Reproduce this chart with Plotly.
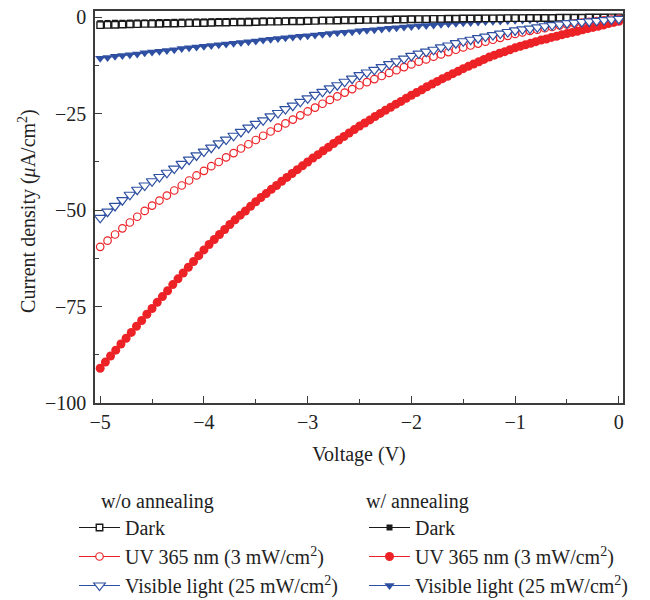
import plotly.graph_objects as go

# Voltage sweep used by the sparser series (open symbols, filled triangles/squares)
voltage_a = [-5.000, -4.929, -4.857, -4.786, -4.714, -4.643, -4.571, -4.500,
             -4.429, -4.357, -4.286, -4.214, -4.143, -4.071, -4.000,
             -3.929, -3.857, -3.786, -3.714, -3.643, -3.571, -3.500,
             -3.429, -3.357, -3.286, -3.214, -3.143, -3.071, -3.000,
             -2.929, -2.857, -2.786, -2.714, -2.643, -2.571, -2.500,
             -2.429, -2.357, -2.286, -2.214, -2.143, -2.071, -2.000,
             -1.929, -1.857, -1.786, -1.714, -1.643, -1.571, -1.500,
             -1.429, -1.357, -1.286, -1.214, -1.143, -1.071, -1.000,
             -0.929, -0.857, -0.786, -0.714, -0.643, -0.571, -0.500,
             -0.429, -0.357, -0.286, -0.214, -0.143, -0.071, 0.000]

# Voltage sweep of the denser series (UV, with annealing)
voltage_b = [-5.00, -4.95, -4.90, -4.85, -4.80, -4.75, -4.70, -4.65, -4.60, -4.55,
             -4.50, -4.45, -4.40, -4.35, -4.30, -4.25, -4.20, -4.15, -4.10, -4.05,
             -4.00, -3.95, -3.90, -3.85, -3.80, -3.75, -3.70, -3.65, -3.60, -3.55,
             -3.50, -3.45, -3.40, -3.35, -3.30, -3.25, -3.20, -3.15, -3.10, -3.05,
             -3.00, -2.95, -2.90, -2.85, -2.80, -2.75, -2.70, -2.65, -2.60, -2.55,
             -2.50, -2.45, -2.40, -2.35, -2.30, -2.25, -2.20, -2.15, -2.10, -2.05,
             -2.00, -1.95, -1.90, -1.85, -1.80, -1.75, -1.70, -1.65, -1.60, -1.55,
             -1.50, -1.45, -1.40, -1.35, -1.30, -1.25, -1.20, -1.15, -1.10, -1.05,
             -1.00, -0.95, -0.90, -0.85, -0.80, -0.75, -0.70, -0.65, -0.60, -0.55,
             -0.50, -0.45, -0.40, -0.35, -0.30, -0.25, -0.20, -0.15, -0.10, -0.05,
             0.00]

# ---- w/o annealing (uA/cm^2)
dark_wo = [-2.0, -1.95, -1.9, -1.85, -1.8, -1.75, -1.7, -1.7,
           -1.65, -1.6, -1.6, -1.55, -1.5, -1.5, -1.45,
           -1.4, -1.35, -1.35, -1.3, -1.25, -1.25, -1.2,
           -1.15, -1.1, -1.1, -1.05, -1.0, -1.0, -0.95,
           -0.9, -0.85, -0.85, -0.8, -0.75, -0.75, -0.7,
           -0.65, -0.65, -0.6, -0.6, -0.55, -0.55, -0.5,
           -0.45, -0.45, -0.4, -0.4, -0.35, -0.35, -0.3,
           -0.3, -0.3, -0.25, -0.25, -0.25, -0.2, -0.2,
           -0.2, -0.15, -0.15, -0.15, -0.15, -0.1, -0.1,
           -0.1, -0.1, -0.05, -0.05, -0.05, 0.0, 0.0]

uv_wo = [-59.5, -57.9, -56.3, -54.7, -53.2, -51.7, -50.2, -48.8,
         -47.5, -46.2, -44.9, -43.6, -42.3, -41.0, -39.8,
         -38.6, -37.5, -36.3, -35.2, -34.0, -32.9, -31.8,
         -30.7, -29.6, -28.6, -27.5, -26.5, -25.4, -24.4,
         -23.4, -22.4, -21.4, -20.5, -19.5, -18.6, -17.6,
         -16.8, -16.0, -15.2, -14.4, -13.7, -12.9, -12.2,
         -11.5, -10.9, -10.2, -9.6, -9.0, -8.4, -7.8,
         -7.3, -6.8, -6.3, -5.8, -5.3, -4.8, -4.3,
         -3.9, -3.5, -3.2, -2.8, -2.5, -2.1, -1.8,
         -1.55, -1.35, -1.15, -0.95, -0.75, -0.55, -0.4]

vis_wo = [-52.0, -50.4, -48.9, -47.4, -46.0, -44.7, -43.6, -42.5,
          -41.4, -40.3, -39.2, -38.0, -36.9, -35.8, -34.8,
          -33.8, -32.7, -31.7, -30.7, -29.7, -28.6, -27.6,
          -26.7, -25.7, -24.8, -23.8, -22.9, -21.9, -21.0,
          -20.1, -19.3, -18.4, -17.6, -16.7, -15.9, -15.0,
          -14.3, -13.6, -12.9, -12.1, -11.4, -10.7, -10.0,
          -9.4, -8.9, -8.4, -7.8, -7.3, -6.7, -6.2,
          -5.8, -5.4, -5.0, -4.6, -4.2, -3.8, -3.4,
          -3.1, -2.9, -2.6, -2.3, -2.0, -1.8, -1.5,
          -1.35, -1.2, -1.05, -0.9, -0.7, -0.55, -0.4]

# ---- w/ annealing (uA/cm^2)
dark_w = [-1.5, -1.45, -1.4, -1.4, -1.35, -1.3, -1.3, -1.25,
          -1.2, -1.2, -1.15, -1.1, -1.1, -1.05, -1.05,
          -1.0, -0.95, -0.95, -0.9, -0.9, -0.85, -0.85,
          -0.8, -0.8, -0.75, -0.75, -0.7, -0.7, -0.65,
          -0.65, -0.6, -0.6, -0.55, -0.55, -0.5, -0.5,
          -0.45, -0.45, -0.4, -0.4, -0.35, -0.35, -0.3,
          -0.3, -0.25, -0.25, -0.2, -0.2, -0.2, -0.15,
          -0.15, -0.1, -0.1, -0.1, -0.05, -0.05, -0.05,
          0.0, 0.0, 0.0, 0.05, 0.05, 0.05, 0.05,
          0.05, 0.1, 0.1, 0.1, 0.1, 0.1, 0.1]

uv_w = [-91.0, -89.4, -87.8, -86.3, -84.7, -83.2,
        -81.7, -80.1, -78.6, -77.0, -75.5,
        -73.9, -72.4, -70.9, -69.3, -67.8,
        -66.3, -64.8, -63.3, -61.8, -60.3,
        -58.9, -57.6, -56.3, -55.0, -53.7,
        -52.5, -51.3, -50.2, -49.0, -47.8,
        -46.7, -45.7, -44.6, -43.6, -42.5,
        -41.5, -40.5, -39.5, -38.5, -37.5,
        -36.5, -35.6, -34.6, -33.7, -32.7,
        -31.8, -30.9, -30.0, -29.1, -28.2,
        -27.4, -26.6, -25.7, -24.9, -24.1,
        -23.3, -22.5, -21.8, -21.0, -20.2,
        -19.5, -18.8, -18.0, -17.3, -16.6,
        -15.9, -15.3, -14.6, -14.0, -13.3,
        -12.7, -12.1, -11.5, -10.9, -10.3,
        -9.8, -9.3, -8.9, -8.4, -7.9,
        -7.5, -7.1, -6.7, -6.3, -5.9,
        -5.6, -5.2, -4.9, -4.5, -4.2,
        -3.9, -3.6, -3.2, -2.9, -2.6,
        -2.3, -2.0, -1.6, -1.3, -1.0]

vis_w = [-10.6, -10.4, -10.1, -9.9, -9.7, -9.5, -9.2, -9.0,
         -8.8, -8.6, -8.4, -8.1, -7.9, -7.7, -7.5,
         -7.3, -7.1, -6.9, -6.7, -6.5, -6.3, -6.1,
         -5.9, -5.7, -5.5, -5.3, -5.1, -4.9, -4.75,
         -4.6, -4.4, -4.2, -4.0, -3.85, -3.7, -3.5,
         -3.35, -3.2, -3.0, -2.85, -2.7, -2.5, -2.35,
         -2.2, -2.1, -1.95, -1.8, -1.65, -1.55, -1.4,
         -1.3, -1.2, -1.1, -1.0, -0.95, -0.85, -0.75,
         -0.7, -0.6, -0.55, -0.5, -0.4, -0.35, -0.3,
         -0.25, -0.2, -0.15, -0.1, -0.05, 0.0, 0.0]

series_names = ["Dark", "UV 365 nm (3 mW/cm<sup>2</sup>)", "Visible light (25 mW/cm<sup>2</sup>)"]
legend_titles = ["\u00a0\u00a0\u00a0\u00a0\u00a0w/o annealing", "w/ annealing"]
x_title = "Voltage (V)"
y_title = "Current density (<i>μ</i>A/cm<sup>2</sup>)"
x_ticks = [-5, -4, -3, -2, -1, 0]
y_ticks = [0, -25, -50, -75, -100]

FONT = "Liberation Serif, Times New Roman, serif"
BLACK = "#1a1a1a"
RED = "#ec2227"
BLUE = "#2f50a2"
AXIS = "#3c3c3c"

fig = go.Figure()

# w/ annealing (filled symbols) drawn first
fig.add_trace(go.Scatter(x=voltage_a, y=dark_w, mode="lines+markers", name=series_names[0],
                         legend="legend2", line=dict(color=BLACK, width=1),
                         marker=dict(symbol="square", size=6, color=BLACK)))
fig.add_trace(go.Scatter(x=voltage_b, y=uv_w, mode="lines+markers", name=series_names[1],
                         legend="legend2", line=dict(color=RED, width=1),
                         marker=dict(symbol="circle", size=9, color=RED)))
fig.add_trace(go.Scatter(x=voltage_a, y=vis_w, mode="lines+markers", name=series_names[2],
                         legend="legend2", line=dict(color=BLUE, width=1),
                         marker=dict(symbol="triangle-down", size=9, color=BLUE)))

# w/o annealing (open symbols)
fig.add_trace(go.Scatter(x=voltage_a, y=dark_wo, mode="lines+markers", name=series_names[0],
                         legend="legend", line=dict(color=BLACK, width=1),
                         marker=dict(symbol="square", size=6.5, color="white",
                                     line=dict(color=BLACK, width=1.4))))
fig.add_trace(go.Scatter(x=voltage_a, y=uv_wo, mode="lines+markers", name=series_names[1],
                         legend="legend", line=dict(color=RED, width=1),
                         marker=dict(symbol="circle", size=7.5, color="white",
                                     line=dict(color=RED, width=1.2))))
fig.add_trace(go.Scatter(x=voltage_a, y=vis_wo, mode="lines+markers", name=series_names[2],
                         legend="legend", line=dict(color=BLUE, width=1),
                         marker=dict(symbol="triangle-down", size=10, color="white",
                                     line=dict(color=BLUE, width=1.2))))

axis_common = dict(showline=True, linecolor=AXIS, linewidth=1.6, mirror=True,
                   showgrid=False, zeroline=False, ticks="inside", ticklen=7,
                   tickwidth=1.4, tickcolor=AXIS, automargin=False,
                   tickfont=dict(family=FONT, size=20, color="#222"))

fig.update_layout(
    width=650, height=600,
    margin=dict(l=95, r=27, t=11, b=197, autoexpand=False),
    paper_bgcolor="white", plot_bgcolor="white",
    font=dict(family=FONT, size=20, color="#222"),
    xaxis=dict(range=[-5.05, 0.04], tickvals=x_ticks,
               minor=dict(ticks="inside", ticklen=4, dtick=0.5, tickcolor=AXIS, tickwidth=1.2),
               title=dict(text=x_title, font=dict(family=FONT, size=20)),
               ticklabelstandoff=0,
               **axis_common),
    yaxis=dict(range=[-100, 1.65], tickvals=y_ticks,
               minor=dict(ticks="inside", ticklen=4, dtick=12.5, tickcolor=AXIS, tickwidth=1.2),
               ticklabelstandoff=3,
               **axis_common),
    annotations=[dict(text=y_title, textangle=-90, xref="paper", yref="paper",
                      x=(28 - 95) / 528, y=0.49, xanchor="center", yanchor="middle",
                      showarrow=False, font=dict(family=FONT, size=20, color="#222"))],
    showlegend=True,
    legend=dict(title=dict(text=legend_titles[0], font=dict(family=FONT, size=20)),
                xref="container", yref="container", x=74 / 650, y=1 - 482 / 600,
                xanchor="left", yanchor="top", bgcolor="rgba(0,0,0,0)",
                font=dict(family=FONT, size=20, color="#222"), itemwidth=41),
    legend2=dict(title=dict(text=legend_titles[1], font=dict(family=FONT, size=20)),
                 xref="container", yref="container", x=364 / 650, y=1 - 482 / 600,
                 xanchor="left", yanchor="top", bgcolor="rgba(0,0,0,0)",
                 font=dict(family=FONT, size=20, color="#222"), itemwidth=41),
)

fig.write_html("out.html")
